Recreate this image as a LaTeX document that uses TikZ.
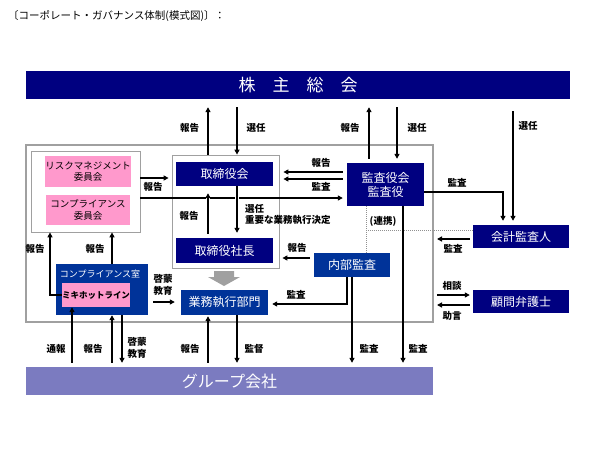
\documentclass[tikz,border=0pt]{standalone}
\usepackage{fontspec}
\setmainfont{Noto Sans CJK JP}
\usetikzlibrary{arrows.meta}
\definecolor{navy}{HTML}{000080}
\definecolor{royal}{HTML}{003399}
\definecolor{pinkbox}{HTML}{FF99CC}
\definecolor{grp}{HTML}{7B7BC0}
\definecolor{framegray}{HTML}{A0A0A0}
\definecolor{dotgray}{HTML}{909090}
\begin{document}
\begin{tikzpicture}[x=1pt,y=-1pt,
  nbox/.style={fill=navy, text=white, inner sep=0pt, font=\fontsize{12}{14}\selectfont, align=center},
  rbox/.style={fill=royal, text=white, inner sep=0pt, font=\fontsize{12}{14}\selectfont, align=center},
  pbox/.style={fill=pinkbox, inner sep=0pt, font=\fontsize{9.5}{11.5}\selectfont, align=center},
  wbox/.style={draw=framegray, fill=white, line width=0.8pt, inner sep=0pt},
  lab/.style={font=\fontsize{9.5}{11}\selectfont\bfseries, inner sep=0pt, align=center},
  ln/.style={line width=1.3pt},
  arr/.style={ln, -{Triangle[length=5pt,width=5pt]}},
  gapped/.style={preaction={draw=white, line width=4pt, -}},
  dotline/.style={draw=dotgray, line width=0.9pt, dash pattern=on 1pt off 1pt}
]
\useasboundingbox (0,0) rectangle (600,450);
\node[anchor=west, font=\fontsize{10.5}{12}\selectfont, inner sep=0pt] (title) at (8,16) {〔コーポレート・ガバナンス体制(模式図)〕：};

% boxes
\node[nbox, minimum width=544pt, minimum height=28pt, font=\fontsize{17}{17}\selectfont] (kabu) at (298,85) {株　主　総　会};
\node[draw=framegray, line width=1.2pt, minimum width=407pt, minimum height=177pt, inner sep=0pt] (outer) at (229.5,233.5) {};
\node[wbox, minimum width=109pt, minimum height=81pt] (leftbox) at (85.5,191.5) {};
\node[pbox, minimum width=84pt, minimum height=31pt] (risk) at (88,171.5) {リスクマネジメント\\委員会};
\node[pbox, minimum width=84pt, minimum height=30pt] (compc) at (88,210) {コンプライアンス\\委員会};
\node[wbox, minimum width=107pt, minimum height=113pt] (midbox) at (225.5,211.5) {};
\node[nbox, minimum width=97pt, minimum height=24pt] (tori) at (224.5,174) {取締役会};
\node[nbox, minimum width=97pt, minimum height=25pt] (shacho) at (224.5,250.5) {取締役社長};
\node[nbox, minimum width=77pt, minimum height=43pt] (kansa) at (385.5,184.5) {監査役会\\監査役};
\node[nbox, minimum width=96pt, minimum height=23pt] (kaikei) at (521,236.5) {会計監査人};
\node[nbox, minimum width=96pt, minimum height=23pt] (komon) at (521,301.5) {顧問弁護士};
\node[rbox, minimum width=76pt, minimum height=24pt] (naibu) at (352,265) {内部監査};
\node[rbox, minimum width=87pt, minimum height=25pt] (gyomu) at (224.5,302.5) {業務執行部門};
\node[rbox, minimum width=92pt, minimum height=51pt] (compl) at (102,289.5) {};
\node[text=white, inner sep=0pt, font=\fontsize{9}{11}\selectfont] (compllab) at (100,274) {コンプライアンス室};
\node[pbox, minimum width=66pt, minimum height=24pt, font=\fontsize{8.5}{10}\selectfont\bfseries] (hot) at (96,295) {ミキホットライン};
\node[fill=grp, text=white, inner sep=0pt, minimum width=407pt, minimum height=28pt, font=\fontsize{16}{16}\selectfont] (group) at (229.5,381) {グループ会社};

% gray block arrow
\fill[framegray] (214,271) -- (234,271) -- (234,277) -- (240,277) -- (224,286) -- (208,277) -- (214,277) -- cycle;

% helper coordinates
\coordinate (xa) at (208,0);
\coordinate (xb) at (237,0);
\coordinate (xc) at (369,0);
\coordinate (xd) at (397,0);
\coordinate (xe) at (513,0);
\coordinate (xf) at (503,0);
\coordinate (xg) at (366,0);
\coordinate (xh) at (403,0);
\coordinate (xi) at (347,0);
\coordinate (xj) at (352,0);
\coordinate (xk) at (72,0);
\coordinate (xl) at (112,0);
\coordinate (xm) at (122,0);
\coordinate (xn) at (50,0);
\coordinate (xo) at (437,0);
\coordinate (ya) at (0,178);
\coordinate (yb) at (0,198);
\coordinate (yc) at (0,172);
\coordinate (yd) at (0,179);
\coordinate (ye) at (0,192);
\coordinate (yf) at (0,230);
\coordinate (yg) at (0,258);
\coordinate (yh) at (0,304);
\coordinate (yi) at (0,302);
\coordinate (yj) at (0,239);
\coordinate (yk) at (0,295);
\coordinate (yl) at (0,305);

% dotted cooperation lines
\draw[dotline] (kansa.south -| xg) -- (naibu.north -| xg);
\draw[dotline] (xg |- yf) -- (kaikei.west |- yf);

% connectors
\draw[arr, shorten >=8pt] (midbox.north -| xa) -- (kabu.south -| xa);
\draw[arr, shorten <=8pt] (kabu.south -| xb) -- (midbox.north -| xb);
\draw[arr, shorten <=4pt, shorten >=8pt] (kansa.north -| xc) -- (kabu.south -| xc);
\draw[arr, shorten <=8pt, shorten >=4pt] (kabu.south -| xd) -- (kansa.north -| xd);
\draw[arr, shorten <=12pt, shorten >=4pt] (kabu.south -| xe) -- (kaikei.north -| xe);
\draw[arr, shorten >=4pt] (kansa.east |- ye) -| (kaikei.north -| xf);

\draw[arr, shorten >=3pt] (leftbox.east |- ya) -- (midbox.west |- ya);
\draw[arr, shorten >=4pt] (leftbox.east |- yb) -- (kansa.west |- yb);
\draw[arr, shorten <=4pt, shorten >=4pt] (kansa.west |- yc) -- (midbox.east |- yc);
\draw[arr, shorten <=4pt, shorten >=4pt] (kansa.west |- yd) -- (midbox.east |- yd);
\draw[arr, gapped, shorten <=4pt, shorten >=7pt] (shacho.north -| xa) -- (tori.south -| xa);
\draw[arr, gapped, shorten >=5pt] (tori.south -| xb) -- (shacho.north -| xb);

\draw[arr, shorten >=4pt] (kansa.south -| xh) -- (group.north -| xh);
\draw[arr, shorten <=3pt] (kaikei.west |- yj) -- (xo |- yj);
\draw[arr, shorten >=3pt] (xo |- yk) -- (komon.west |- yk);
\draw[arr, shorten <=3pt] (komon.west |- yl) -- (xo |- yl);

\draw[arr, shorten <=4pt, shorten >=3pt] (naibu.west |- yg) -- (midbox.east |- yg);
\draw[arr, shorten >=4pt] (naibu.south -| xi) |- (gyomu.east |- yh);
\draw[arr, shorten >=4pt] (naibu.south -| xj) -- (group.north -| xj);

\draw[arr, shorten <=5pt, shorten >=6pt] (compl.east |- yi) -- (gyomu.west |- yi);
\draw[arr] (compl.north -| xl) -- (leftbox.south -| xl);
\draw[arr] (hot.west) -| (leftbox.south -| xn);

\draw[arr, shorten <=4pt] (group.north -| xk) -- (hot.south -| xk);
\draw[arr, shorten <=4pt] (group.north -| xl) -- (compl.south -| xl);
\draw[arr, shorten >=4pt] (compl.south -| xm) -- (group.north -| xm);
\draw[arr, shorten <=4pt, shorten >=1pt] (group.north -| xa) -- (gyomu.south -| xa);
\draw[arr, shorten >=4pt] (gyomu.south -| xb) -- (group.north -| xb);

% labels
\node[lab] (l1) at (189.5,128) {報告};
\node[lab] (l2) at (256,128) {選任};
\node[lab] (l3) at (350,128) {報告};
\node[lab] (l4) at (417,128) {選任};
\node[lab] (l5) at (528,126) {選任};
\node[lab] (l6) at (153,187) {報告};
\node[lab] (l7) at (189,216) {報告};
\node[lab, align=left, anchor=west, font=\fontsize{9.5}{11}\selectfont\bfseries] (l8) at (245,214.5) {選任\\重要な業務執行決定};
\node[lab] (l9) at (321,163) {報告};
\node[lab] (l10) at (321,187) {監査};
\node[lab] (l11) at (457,183) {監査};
\node[lab] (l12) at (383,221) {(連携)};
\node[lab] (l13) at (453,249) {監査};
\node[lab] (l14) at (452,286) {相談};
\node[lab] (l15) at (452,316) {助言};
\node[lab] (l16) at (297,248) {報告};
\node[lab] (l17) at (296,295) {監査};
\node[lab, font=\fontsize{9.5}{12}\selectfont\bfseries] (l18) at (163,285) {啓蒙\\教育};
\node[lab] (l19) at (35,249) {報告};
\node[lab] (l20) at (95,249) {報告};
\node[lab] (l21) at (56,349) {通報};
\node[lab] (l22) at (93,349) {報告};
\node[lab, font=\fontsize{9.5}{12}\selectfont\bfseries] (l23) at (137,348) {啓蒙\\教育};
\node[lab] (l24) at (190,349) {報告};
\node[lab] (l25) at (254,349) {監督};
\node[lab] (l26) at (369,349) {監査};
\node[lab] (l27) at (418,349) {監査};
\end{tikzpicture}
\end{document}
